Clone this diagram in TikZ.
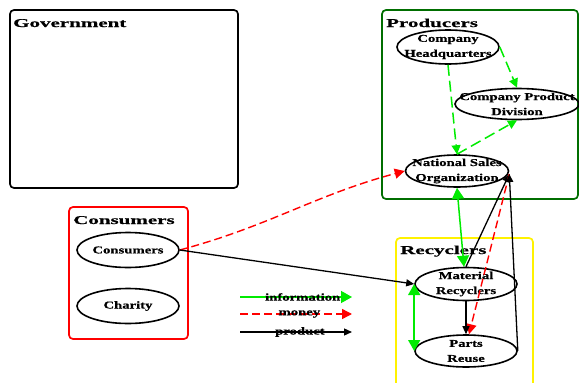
\documentclass[tikz,border=0pt]{standalone}
\usepackage{fontspec}
\setmainfont{Liberation Serif}
\newfontfamily\boxfont{Liberation Serif}[FakeStretch=1.75, FakeBold=0.5]
\newfontfamily\actorfont{Liberation Serif}[FakeStretch=1.4, FakeBold=0.5]
\usetikzlibrary{shapes.geometric,arrows.meta}
\definecolor{prodgreen}{RGB}{0,110,0}
\definecolor{infogreen}{RGB}{0,235,0}
\tikzset{
  group/.style={draw=#1, line width=1.7pt, rounded corners=4pt},
  grouptitle/.style={anchor=base west, inner sep=0pt,
    font=\boxfont\bfseries\fontsize{12}{14}\selectfont},
  actor/.style={draw, ellipse, line width=1.6pt, inner xsep=-20pt,
    inner ysep=-10pt, align=center,
    font=\actorfont\bfseries\fontsize{10.5}{15}\selectfont},
  legendtext/.style={inner sep=0pt, font=\actorfont\bfseries\fontsize{10.5}{15}\selectfont},
  info/.style={infogreen, line width=1.5pt, >={Triangle[length=11pt,width=12pt]}, ->},
  infodash/.style={info, dash pattern=on 11pt off 5pt,
    >={Triangle[length=9pt,width=9pt]}},
  money/.style={red, line width=1.4pt, dash pattern=on 8pt off 4pt,
    >={Triangle[length=10pt,width=10pt]}, ->},
  product/.style={black, line width=1.3pt, >={Triangle[length=8pt,width=7pt]}, ->}
}
\begin{document}
\begin{tikzpicture}[x=1pt,y=-1pt]
   \useasboundingbox (0,0) rectangle (579,383);
   % groups
   \draw[group=black] (10,10) rectangle (238,188);
   \node[grouptitle] (govt) at (13,27) {Government};
   \draw[group=prodgreen] (382,10) rectangle (578,199);
   \node[grouptitle] (prod) at (386,27) {Producers};
   \draw[group=red] (69,207) rectangle (188,339);
   \node[grouptitle] (consgrp) at (73,224) {Consumers};
   \draw[group=yellow] (396,238) rectangle (533,392);
   \node[grouptitle] (recgrp) at (400,254) {Recyclers};
   % actors
   \node[actor, minimum width=102pt, minimum height=34pt] (hq) at (448,47) {Company\\Headquarters};
   \node[actor, minimum width=124pt, minimum height=31pt] (cpd) at (517,104) {Company Product\\Division};
   \node[actor, minimum width=103pt, minimum height=32pt] (nso) at (457,171) {National Sales\\Organization};
   \node[actor, minimum width=102pt, minimum height=35pt] (cons) at (128,250) {Consumers};
   \node[actor, minimum width=102pt, minimum height=35pt] (char) at (128,306) {Charity};
   \node[actor, minimum width=102pt, minimum height=33pt] (mat) at (466,284) {Material\\Recyclers};
   \node[actor, minimum width=102pt, minimum height=32pt] (parts) at (466,351) {Parts\\Reuse};
   % flows
   \draw[infodash] (hq.south) -- (nso.north);
   \draw[infodash] (hq.east) -- (cpd.north);
   \draw[infodash] (nso.north) -- (cpd.south);
   \draw[money] (cons.east) to[out=15,in=195] (nso.west);
   \draw[product] (cons.east) -- (mat.west);
   \draw[info, <->] (nso.south) -- ([xshift=-2pt]mat.north);
   \draw[product] (mat.north) -- ([yshift=-3pt]nso.east);
   \draw[money] ([yshift=-3pt]nso.east) -- ([xshift=3pt]parts.north);
   \draw[product] (parts.east) -- ([yshift=-3pt]nso.east);
   \draw[product] (mat.south) -- (parts.north);
   \draw[info, <->] (mat.west) -- (parts.west);
   % legend
   \coordinate (infoL) at (240,297);
   \coordinate (infoR) at (352,297);
   \coordinate (moneyL) at (240,314);
   \coordinate (moneyR) at (352,314);
   \coordinate (prodL) at (240,332);
   \coordinate (prodR) at (352,332);
   \draw[info] (infoL) -- (infoR) node[legendtext, text=black, pos=0.56] (infolbl) {information};
   \draw[money] (moneyL) -- (moneyR) node[legendtext, text=black, pos=0.53] (moneylbl) {money};
   \draw[product] (prodL) -- (prodR) node[legendtext, pos=0.535] (prodlbl) {product};
\end{tikzpicture}
\end{document}
